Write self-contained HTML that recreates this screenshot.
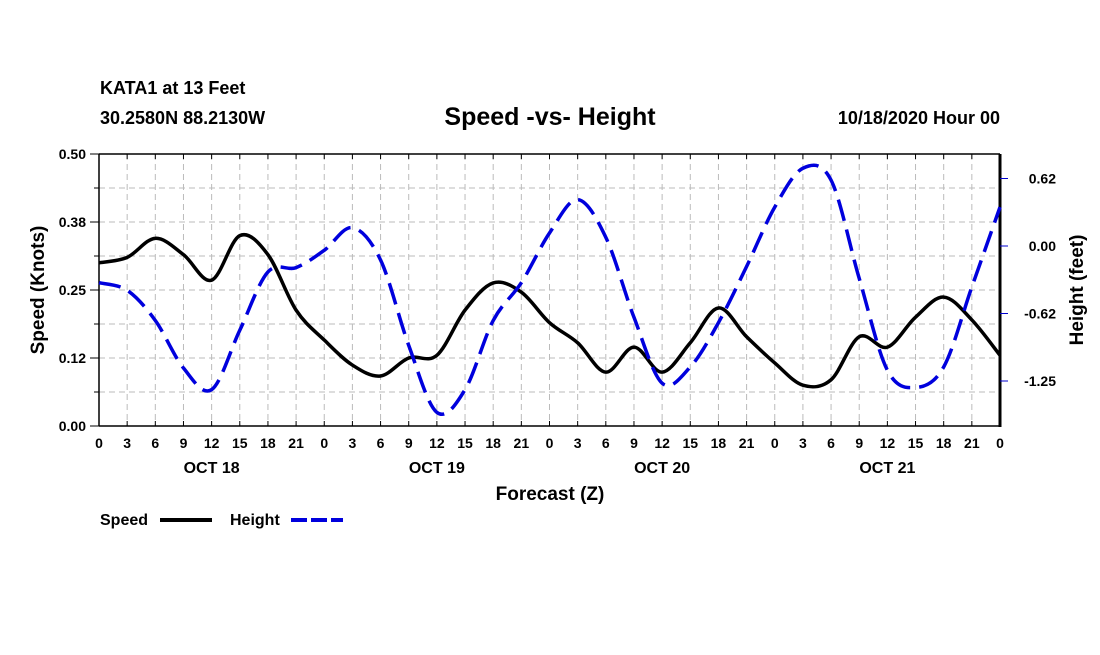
<!DOCTYPE html>
<html><head><meta charset="utf-8"><style>
body{margin:0;background:#fff;}
svg text{font-family:"Liberation Sans",Arial,sans-serif;font-weight:bold;fill:#000;}
</style></head><body>
<svg id="chart" width="1100" height="650" xmlns="http://www.w3.org/2000/svg">
<text x="100" y="94" font-size="18">KATA1 at 13 Feet</text>
<text x="100" y="124" font-size="18">30.2580N 88.2130W</text>
<text x="550" y="125" font-size="25" text-anchor="middle">Speed -vs- Height</text>
<text x="1000" y="124" font-size="18" text-anchor="end">10/18/2020 Hour 00</text>
<g id="grid"></g>
<g id="axes"></g>
<g id="series"></g>
<text transform="translate(44,290) rotate(-90)" font-size="19" text-anchor="middle">Speed (Knots)</text>
<text transform="translate(1083,290) rotate(-90)" font-size="19" text-anchor="middle">Height (feet)</text>
<text x="550" y="500" font-size="19" text-anchor="middle">Forecast (Z)</text>
<g>
<text x="100" y="525" font-size="16">Speed</text>
<line x1="160" y1="520" x2="212" y2="520" stroke="#000" stroke-width="4"/>
</g>
<g>
<text x="230" y="525" font-size="16">Height</text>
<line x1="291" y1="520" x2="343" y2="520" stroke="#0000dd" stroke-width="4" stroke-dasharray="16,4"/>
</g>
</svg>
<script>
const hours=[0,3,6,9,12,15,18,21,24,27,30,33,36,39,42,45,48,51,54,57,60,63,66,69,72,75,78,81,84,87,90,93,96];
const speed=[0.30,0.31,0.345,0.315,0.268,0.35,0.315,0.213,0.158,0.112,0.092,0.125,0.13,0.213,0.263,0.246,0.19,0.153,0.099,0.145,0.099,0.153,0.217,0.164,0.116,0.075,0.085,0.164,0.145,0.20,0.237,0.195,0.13];
const height=[-0.34,-0.41,-0.69,-1.13,-1.33,-0.78,-0.24,-0.2,-0.04,0.17,-0.13,-0.92,-1.54,-1.33,-0.69,-0.34,0.12,0.43,0.08,-0.66,-1.27,-1.12,-0.71,-0.19,0.36,0.72,0.61,-0.3,-1.15,-1.31,-1.12,-0.38,0.36];
const xTickLabels=["0","3","6","9","12","15","18","21"];
const dayLabels=["OCT 18","OCT 19","OCT 20","OCT 21"];
const yTicks=[0,0.125,0.25,0.375,0.5];
const yTickLabels=["0.00","0.12","0.25","0.38","0.50"];
const y2Ticks=[0.625,0,-0.625,-1.25];
const y2TickLabels=["0.62","0.00","-0.62","-1.25"];

const L=99,R=1000,T=154,B=426;
const NS="http://www.w3.org/2000/svg";
const xs=h=>L+h*(R-L)/96;
const ys=v=>B-v*(B-T)/0.5;
const yh=v=>246-v*108;
function mk(parent,tag,attrs){const e=document.createElementNS(NS,tag);for(const k in attrs)e.setAttribute(k,attrs[k]);parent.appendChild(e);return e;}
const grid=document.getElementById('grid'),axes=document.getElementById('axes'),series=document.getElementById('series');
for(let h=3;h<96;h+=3){const l=mk(grid,'line',{x1:xs(h),x2:xs(h),y1:T,y2:B,stroke:'#bbb','stroke-width':1,'stroke-dasharray':'6,4'});

}
for(let v=0.0625;v<0.5;v+=0.0625){const l=mk(grid,'line',{x1:L,x2:R,y1:ys(v),y2:ys(v),stroke:'#bbb','stroke-width':1,'stroke-dasharray':'6,4'});

}
mk(axes,'line',{x1:L,x2:R,y1:T,y2:T,stroke:'#000','stroke-width':1.5});
mk(axes,'line',{x1:L,x2:R,y1:B,y2:B,stroke:'#000','stroke-width':1.5});
mk(axes,'line',{x1:L,x2:L,y1:T,y2:B,stroke:'#000','stroke-width':1.5});
mk(axes,'line',{x1:R,x2:R,y1:T,y2:B+1,stroke:'#000','stroke-width':3});
for(let h=0;h<=96;h+=3){mk(axes,'line',{x1:xs(h),x2:xs(h),y1:B,y2:B-5,stroke:'#000'});mk(axes,'line',{x1:xs(h),x2:xs(h),y1:T,y2:T+5,stroke:'#000'});
const t=mk(axes,'text',{x:xs(h),y:448,'font-size':14,'text-anchor':'middle'});t.textContent=xTickLabels[(h/3)%8];

}
dayLabels.forEach((d,i)=>{const t=mk(axes,'text',{x:xs(12+24*i),y:473,'font-size':16,'text-anchor':'middle'});t.textContent=d;

});
for(let v=0;v<=0.5001;v+=0.0625){mk(axes,'line',{x1:L-5,x2:L,y1:ys(v),y2:ys(v),stroke:'#000'});}
yTicks.forEach((v,i)=>{mk(axes,'line',{x1:L-9,x2:L,y1:ys(v),y2:ys(v),stroke:'#000'});const t=mk(axes,'text',{x:L-13,y:ys(v)+5,'font-size':14,'text-anchor':'end'});t.textContent=yTickLabels[i];

});
y2Ticks.forEach((v,i)=>{mk(axes,'line',{x1:R,x2:R+8,y1:yh(v),y2:yh(v),stroke:'#0000cc'});const t=mk(axes,'text',{x:1056,y:yh(v)+5,'font-size':14,'text-anchor':'end'});t.textContent=y2TickLabels[i];

});
function path(pts){let d='M'+pts[0][0]+','+pts[0][1];for(let i=0;i<pts.length-1;i++){const p0=pts[i-1]||pts[i],p1=pts[i],p2=pts[i+1],p3=pts[i+2]||p2;
d+=' C'+(p1[0]+(p2[0]-p0[0])/6)+','+(p1[1]+(p2[1]-p0[1])/6)+' '+(p2[0]-(p3[0]-p1[0])/6)+','+(p2[1]-(p3[1]-p1[1])/6)+' '+p2[0]+','+p2[1];}return d;}
const sp=mk(series,'path',{d:path(hours.map((h,i)=>[xs(h),ys(speed[i])])),fill:'none',stroke:'#000','stroke-width':3.5});


const hp=mk(series,'path',{d:path(hours.map((h,i)=>[xs(h),yh(height[i])])),fill:'none',stroke:'#0000dd','stroke-width':3.5,'stroke-dasharray':'22,9'});


</script>
</body></html>
